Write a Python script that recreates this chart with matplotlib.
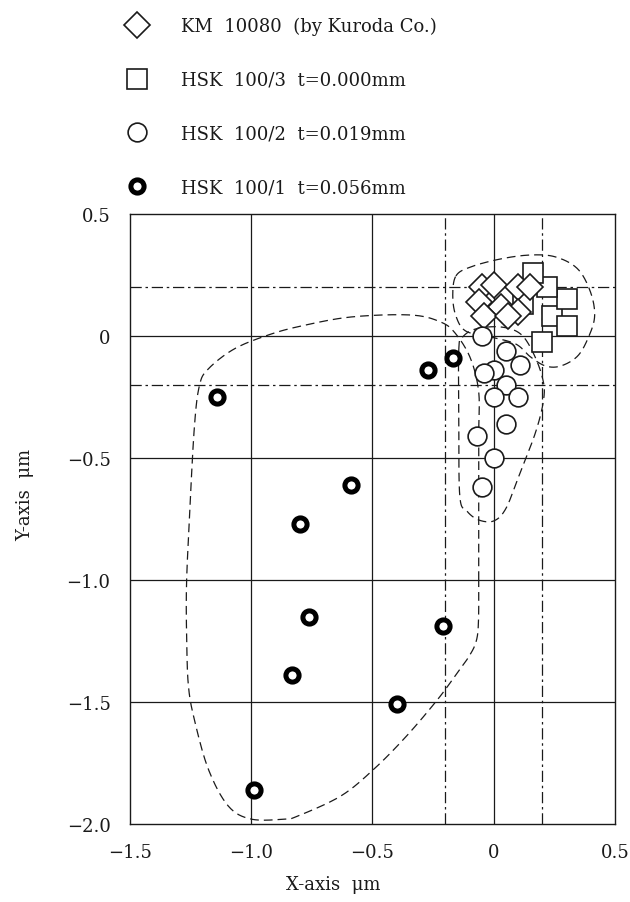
import numpy as np
import matplotlib
matplotlib.use("Agg")
import matplotlib.pyplot as plt

plt.rcParams.update(
    {
        "font.family": ["DejaVu Serif"],
        "font.size": 13,
        "axes.linewidth": 1.0,
        "mathtext.fontset": "dejavuserif",
    }
)

# measured points (um)
km_x = [-0.05, 0.00, -0.06, 0.03, 0.10, 0.15, 0.10, -0.04, 0.06]
km_y = [0.20, 0.21, 0.14, 0.12, 0.20, 0.20, 0.10, 0.08, 0.08]

hsk3_x = [0.20, 0.24, 0.30, 0.30, 0.22, 0.16, 0.12]
hsk3_y = [-0.025, 0.08, 0.15, 0.04, 0.20, 0.26, 0.13]

hsk2_x = [-0.05, 0.05, 0.11, 0.00, -0.04, 0.05, 0.00, 0.10, 0.05, -0.07, 0.00, -0.05]
hsk2_y = [0.00, -0.06, -0.12, -0.14, -0.15, -0.20, -0.25, -0.25, -0.36, -0.41, -0.50, -0.62]

hsk1_x = [-1.14, -0.27, -0.17, -0.59, -0.80, -0.76, -0.21, -0.83, -0.40, -0.99]
hsk1_y = [-0.25, -0.14, -0.09, -0.61, -0.77, -1.15, -1.19, -1.39, -1.51, -1.86]

labels = [
    "KM  10080  (by Kuroda Co.)",
    "HSK  100/3  t=0.000mm",
    "HSK  100/2  t=0.019mm",
    "HSK  100/1  t=0.056mm",
]

# hand-drawn grouping outlines (um)
big_x = [-0.062, -0.062, -0.062, -0.062, -0.095, -0.156, -0.218, -0.342, -0.588, -0.794,
         -0.930, -1.070, -1.177, -1.214, -1.235, -1.255, -1.267, -1.266, -1.259, -1.235,
         -1.177, -1.095, -1.0, -0.864, -0.807, -0.630, -0.494, -0.360, -0.230, -0.150,
         -0.100, -0.072, -0.063]
big_y = [-1.000, -0.668, -0.400, -0.230, -0.094, 0.008, 0.057, 0.086, 0.078, 0.041,
         0.004, -0.053, -0.135, -0.205, -0.381, -0.750, -1.025, -1.250, -1.434, -1.570,
         -1.775, -1.926, -1.98, -1.98, -1.967, -1.885, -1.775, -1.640, -1.488, -1.380,
         -1.310, -1.250, -1.170]

mid_x = [-0.144, -0.144, -0.140, -0.111, -0.062, 0.0, 0.049, 0.099, 0.173, 0.206,
         0.202, 0.165, 0.111, 0.029, -0.074, -0.128]
mid_y = [-0.053, -0.340, -0.656, -0.717, -0.754, -0.758, -0.709, -0.586, -0.393, -0.258,
         -0.176, -0.074, 0.008, 0.037, 0.029, -0.004]

top_x = [-0.156, -0.095, 0.029, 0.152, 0.255, 0.346, 0.399, 0.416, 0.391, 0.346,
         0.276, 0.214, 0.152, 0.091, -0.012, -0.115, -0.156, -0.169]
top_y = [0.246, 0.283, 0.316, 0.332, 0.324, 0.275, 0.180, 0.082, -0.004, -0.082,
         -0.123, -0.123, -0.086, -0.033, -0.004, 0.020, 0.082, 0.164]

x_ticks = [-1.5, -1.0, -0.5, 0, 0.5]
x_tick_labels = ["\u22121.5", "\u22121.0", "\u22120.5", "0", "0.5"]
y_ticks = [0.5, 0, -0.5, -1.0, -1.5, -2.0]
y_tick_labels = ["0.5", "0", "\u22120.5", "\u22121.0", "\u22121.5", "\u22122.0"]


def closed_spline(xs, ys, n=24):
    # Catmull-Rom through the traced outline points
    p = np.column_stack([xs, ys])
    m = len(p)
    out = []
    for i in range(m):
        p0, p1, p2, p3 = p[i - 1], p[i], p[(i + 1) % m], p[(i + 2) % m]
        t = np.linspace(0, 1, n, endpoint=False)[:, None]
        out.append(0.5 * ((2 * p1) + (-p0 + p2) * t + (2 * p0 - 5 * p1 + 4 * p2 - p3) * t ** 2
                          + (-p0 + 3 * p1 - 3 * p2 + p3) * t ** 3))
    out = np.vstack(out + [out[0][:1]])
    return out[:, 0], out[:, 1]


fig = plt.figure(figsize=(6.3, 9.03), dpi=100)
ax = fig.add_axes([0.2063, 0.0864, 0.7699, 0.6755])
ax.set_xlim(-1.5, 0.5)
ax.set_ylim(-2.0, 0.5)

ink = "#1a1a1a"
for v in np.arange(-1.0, 0.5, 0.5):
    ax.axvline(v, color=ink, lw=0.9, zorder=1)
for v in np.arange(-1.5, 0.5, 0.5):
    ax.axhline(v, color=ink, lw=0.9, zorder=1)
for v in (-0.2, 0.2):
    ax.axvline(v, color=ink, lw=0.9, ls=(0, (9, 3, 2, 3)), zorder=1)
    ax.axhline(v, color=ink, lw=0.9, ls=(0, (9, 3, 2, 3)), zorder=1)

for xs, ys in ((big_x, big_y), (mid_x, mid_y), (top_x, top_y)):
    sx, sy = closed_spline(xs, ys)
    ax.plot(sx, sy, color=ink, lw=0.9, ls=(0, (7, 4)), zorder=2)

h3, = ax.plot(hsk3_x, hsk3_y, "s", ms=14, mfc="white", mec=ink, mew=1.2, zorder=3, label=labels[1])
hkm, = ax.plot(km_x, km_y, "D", ms=13.5, mfc="white", mec=ink, mew=1.2, zorder=4, label=labels[0])
h2, = ax.plot(hsk2_x, hsk2_y, "o", ms=13.5, mfc="white", mec=ink, mew=1.2, zorder=5, label=labels[2])
h1, = ax.plot(hsk1_x, hsk1_y, "o", ms=9.5, mfc="white", mec="black", mew=3.6, zorder=6, label=labels[3])

ax.set_xticks(x_ticks)
ax.set_xticklabels(x_tick_labels)
ax.set_yticks(y_ticks)
ax.set_yticklabels(y_tick_labels)
ax.tick_params(length=0, pad=14, colors=ink, labelsize=13)
for s in ax.spines.values():
    s.set_color(ink)

fig.text(0.529, 0.02, "X-axis  \u03bcm", ha="center", va="center", fontsize=13, color=ink)
fig.text(0.04, 0.452, "Y-axis  \u03bcm", ha="center", va="center", rotation=90, fontsize=13, color=ink)

fig.legend(
    handles=[hkm, h3, h2, h1],
    loc="upper left",
    bbox_to_anchor=(0.175, 0.998),
    frameon=False,
    fontsize=13,
    labelspacing=1.97,
    handletextpad=1.8,
    handlelength=1.2,
    numpoints=1,
    labelcolor=ink,
)

fig.savefig("out.png", dpi=100)
